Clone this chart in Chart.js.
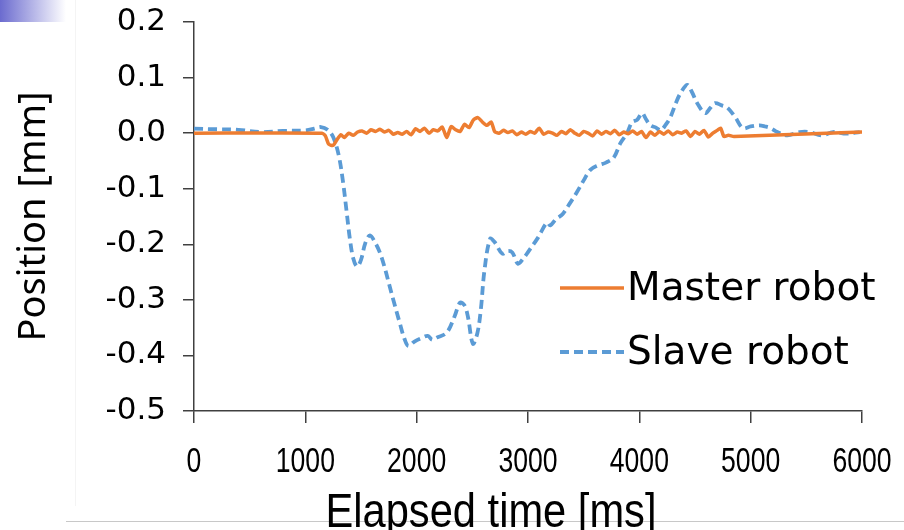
<!DOCTYPE html>
<html>
<head>
<meta charset="utf-8">
<script src="https://cdn.jsdelivr.net/npm/chart.js@4.4.1/dist/chart.umd.min.js"></script>
<style>
  html, body { margin: 0; padding: 0; background: #fff; }
  #wrap { position: relative; width: 904px; height: 530px; overflow: hidden; }
  #corner { position: absolute; left: 0; top: 0; width: 66px; height: 22px;
            background: linear-gradient(to right, #6b6bcf, #ffffff); }
  #vline { position: absolute; left: 75px; top: 0; width: 1px; height: 506px; background: #f4f4f4; }
  #hline { position: absolute; left: 66px; top: 521px; width: 838px; height: 1px; background: #c8c8c8; }
  canvas { position: absolute; left: 0; top: 0; }
</style>
</head>
<body>
<div id="wrap">
  <div id="corner"></div>
  <div id="vline"></div>
  <div id="hline"></div>
  <canvas id="pos-chart" width="904" height="530"></canvas>
</div>
<script>
// master robot trace
const masterTime = [0, 1150, 1180, 1210, 1250, 1290, 1320, 1350, 1390, 1430, 1470, 1510, 1550, 1590, 1630, 1670,
  1710, 1750, 1790, 1830, 1870, 1910, 1950, 1990, 2030, 2070, 2110, 2150, 2190, 2230, 2270, 2310, 2350, 2390,
  2430, 2470, 2510, 2550, 2590, 2630, 2670, 2700, 2740, 2780, 2820, 2860, 2900, 2940, 2980, 3020, 3060, 3100,
  3140, 3180, 3220, 3260, 3300, 3340, 3380, 3420, 3460, 3500, 3540, 3580, 3620, 3660, 3700, 3740, 3780, 3820,
  3860, 3900, 3940, 3980, 4020, 4060, 4100, 4140, 4180, 4220, 4260, 4300, 4340, 4380, 4420, 4460, 4500, 4540,
  4580, 4620, 4660, 4700, 4730, 4760, 4800, 4850, 6000];
const masterPos = [0, 0, -0.005, -0.02, -0.022, -0.01, -0.003, -0.008, 0.0, -0.004, 0.002, 0.004, 0.0, 0.006, 0.003, 0.007,
  0.002, 0.005, -0.002, 0.001, -0.002, 0.003, -0.003, 0.008, 0.003, 0.009, 0.0, 0.006, 0.004, 0.011, -0.008, 0.012, 0.006, 0.003,
  0.016, 0.01, 0.024, 0.028, 0.02, 0.014, 0.02, 0.003, 0.0, 0.005, 0.001, 0.004, -0.003, 0.002, -0.002, 0.003, 0.0, 0.009,
  -0.002, 0.002, 0.0, -0.004, 0.003, -0.001, 0.006, 0.0, -0.004, 0.003, 0.0, -0.005, 0.004, -0.002, 0.003, -0.001, 0.005, -0.003,
  0.002, -0.001, 0.004, -0.002, 0.003, -0.008, 0.002, -0.004, 0.003, -0.002, 0.004, -0.003, 0.002, 0.0, 0.004, -0.006, 0.003, -0.002,
  0.005, -0.007, 0.0, 0.005, 0.009, -0.006, -0.004, -0.006, 0.002];

// slave robot trace
const slaveTime = [0, 200, 400, 600, 800, 1000, 1080, 1140, 1200, 1250, 1300, 1340, 1370, 1400, 1430, 1465, 1500, 1540,
  1580, 1630, 1670, 1710, 1750, 1790, 1850, 1890, 1925, 1980, 2030, 2100, 2140, 2180, 2270, 2340, 2390, 2430, 2460,
  2505, 2545, 2575, 2610, 2660, 2700, 2770, 2820, 2860, 2910, 2960, 3000, 3090, 3170, 3200, 3250, 3310, 3380, 3440,
  3500, 3560, 3630, 3700, 3770, 3830, 3890, 3935, 3980, 4025, 4060, 4100, 4150, 4190, 4240, 4280, 4330, 4370, 4430,
  4470, 4520, 4590, 4640, 4680, 4740, 4790, 4860, 4930, 5000, 5080, 5130, 5180, 5240, 5330, 5440, 5530, 5640, 5740,
  5860, 5980];
const slavePos = [0.008, 0.007, 0.006, 0.002, 0.004, 0.005, 0.008, 0.011, 0.006, -0.007, -0.04, -0.09, -0.14, -0.19, -0.225, -0.24, -0.228, -0.197,
  -0.184, -0.198, -0.215, -0.24, -0.27, -0.3, -0.343, -0.37, -0.383, -0.375, -0.37, -0.365, -0.372, -0.368, -0.359, -0.33, -0.305, -0.31, -0.33,
  -0.379, -0.36, -0.32, -0.245, -0.19, -0.196, -0.217, -0.212, -0.215, -0.235, -0.225, -0.214, -0.188, -0.161, -0.166, -0.155, -0.146, -0.125, -0.106,
  -0.085, -0.066, -0.058, -0.053, -0.044, -0.018, 0.0, 0.02, 0.024, 0.036, 0.025, 0.014, 0.01, 0.005, 0.016, 0.029, 0.055, 0.072, 0.087,
  0.075, 0.054, 0.036, 0.046, 0.054, 0.05, 0.046, 0.029, 0.009, 0.012, 0.014, 0.012, 0.009, 0.002, -0.004, 0.002, 0.002, -0.004, 0.002,
  -0.001, 0.002];

const seriesNames = ['Master robot', 'Slave robot'];
const xTitle = 'Elapsed time [ms]';
const yTitle = 'Position [mm]';

const axisColor = '#404040';
const narrowFont = '"Liberation Sans", Arial, sans-serif';
const toPoints = (xs, ys) => xs.map((x, i) => ({ x: x, y: ys[i] }));

// narrow text: Liberation Sans squeezed horizontally
function narrowText(ctx, text, x, y, size, squeeze) {
  ctx.save();
  ctx.font = size + 'px ' + narrowFont;
  ctx.translate(x, y);
  ctx.scale(squeeze, 1);
  ctx.fillText(text, 0, 0);
  ctx.restore();
}

// x tick labels, axis titles and the in-plot legend
const extras = {
  id: 'extras',
  afterDraw(chart) {
    const ctx = chart.ctx;
    const area = chart.chartArea;
    const xs = chart.scales.x;
    ctx.save();
    ctx.fillStyle = '#000';
    ctx.textAlign = 'center';
    ctx.textBaseline = 'alphabetic';

    xs.ticks.forEach((t) => {
      narrowText(ctx, String(t.value), xs.getPixelForValue(t.value), 472, 35, 0.76);
    });

    narrowText(ctx, xTitle, 491, 527, 49, 0.85);

    ctx.save();
    ctx.translate(45, (area.top + area.bottom) / 2);
    ctx.rotate(-Math.PI / 2);
    ctx.font = '38px "Noto Sans", sans-serif';
    ctx.fillText(yTitle, 0, 0);
    ctx.restore();

    ctx.font = '39px "DejaVu Sans", sans-serif';
    ctx.textAlign = 'left';
    ctx.textBaseline = 'middle';
    const rows = [288, 352];
    chart.data.datasets.forEach((ds, i) => {
      const y = rows[i];
      ctx.strokeStyle = ds.borderColor;
      ctx.lineWidth = ds.borderWidth;
      ctx.setLineDash(ds.borderDash || []);
      ctx.beginPath();
      ctx.moveTo(560, y);
      ctx.lineTo(624, y);
      ctx.stroke();
      ctx.setLineDash([]);
      ctx.fillText(seriesNames[i], 627, y + 2);
    });
    ctx.restore();
  }
};

new Chart(document.getElementById('pos-chart'), {
  type: 'line',
  data: {
    datasets: [{
      label: seriesNames[0],
      data: toPoints(masterTime, masterPos),
      borderColor: '#ED7D31',
      borderWidth: 3.5,
      pointRadius: 0,
      tension: 0.2
    }, {
      label: seriesNames[1],
      data: toPoints(slaveTime, slavePos),
      borderColor: '#5B9BD5',
      borderWidth: 3.8,
      borderDash: [9, 5],
      pointRadius: 0,
      tension: 0.35
    }]
  },
  options: {
    responsive: false,
    animation: false,
    layout: { padding: { top: 22, right: 42, left: 0, bottom: 0 } },
    plugins: {
      legend: { display: false },
      tooltip: { enabled: false }
    },
    scales: {
      x: {
        type: 'linear',
        min: 0,
        max: 6000,
        grid: { display: true, drawOnChartArea: false, tickLength: 12, color: axisColor, lineWidth: 1.5 },
        border: { color: axisColor, width: 1.5 },
        ticks: { stepSize: 1000, display: false },
        afterFit(scale) {
          scale.height = 119;
          scale.paddingLeft = 0;
          scale.paddingRight = 0;
        }
      },
      y: {
        min: -0.5,
        max: 0.2,
        grid: { display: true, drawOnChartArea: false, tickLength: 11, color: axisColor, lineWidth: 1.5 },
        border: { color: axisColor, width: 1.5 },
        ticks: {
          stepSize: 0.1,
          color: '#000',
          padding: 17,
          font: { family: '"DejaVu Sans", sans-serif', size: 31 },
          callback: (v) => (Math.abs(v) < 1e-9 ? 0 : v).toFixed(1)
        },
        afterFit(scale) {
          scale.width = 194;
          scale.paddingTop = 0;
          scale.paddingBottom = 0;
        }
      }
    }
  },
  plugins: [extras]
});
</script>
</body>
</html>
